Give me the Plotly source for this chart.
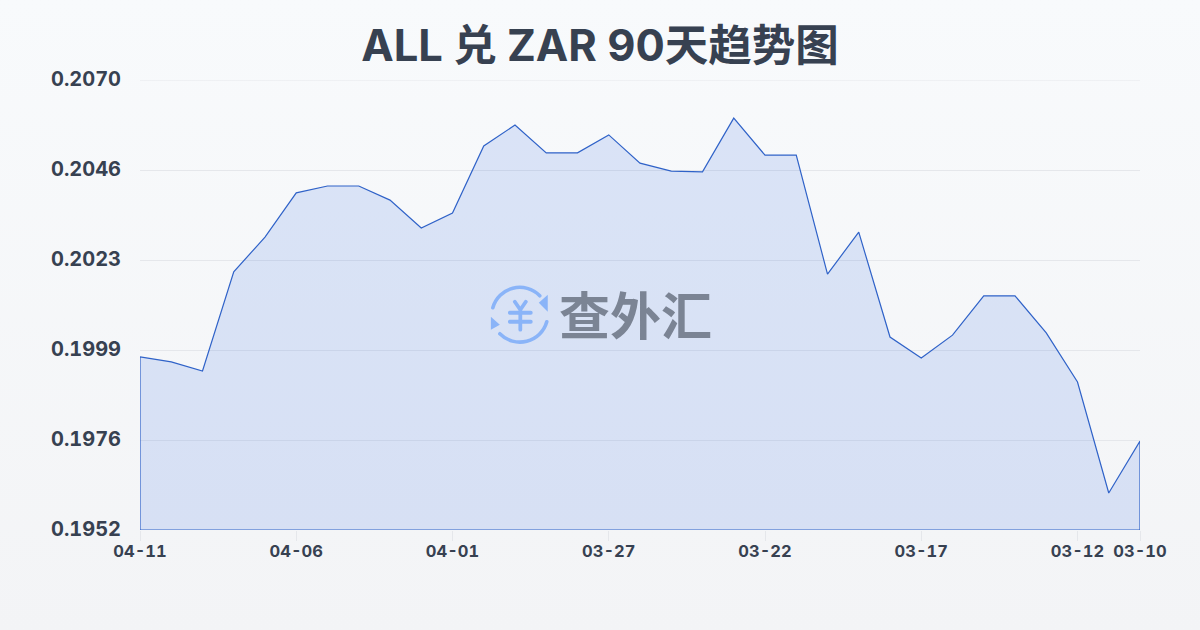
import base64
import plotly.graph_objects as go

dates = ["04-11","04-10","04-09","04-08","04-07","04-06","04-05","04-04","04-03","04-02","04-01",
         "03-31","03-30","03-29","03-28","03-27","03-26","03-25","03-24","03-23","03-22",
         "03-21","03-20","03-19","03-18","03-17","03-16","03-15","03-14","03-13","03-12","03-11","03-10"]
rates = [0.19974,0.19961,0.19937,0.20197,0.20288,0.20404,0.20422,0.20422,0.20385,0.20312,0.20351,
         0.20527,0.20582,0.20509,0.20509,0.20556,0.20482,0.20461,0.20459,0.20600,0.20503,
         0.20503,0.20191,0.20301,0.20026,0.19971,0.20031,0.20134,0.20134,0.20037,0.19908,0.19617,0.19753]
y_ticks = [0.1952,0.19756,0.19992,0.20228,0.20464,0.2070]
y_labels = ["0.1952","0.1976","0.1999","0.2023","0.2046","0.2070"]
x_ticks = ["04-11","04-06","04-01","03-27","03-22","03-17","03-12","03-10"]
title = "ALL 兑 ZAR 90天趋势图"
brand = "查外汇"
y_min, y_max = 0.1952, 0.2070

FONT = "Inter, Noto Sans CJK SC, sans-serif"
TEXT = "#374151"
W, H, L, T, PW, PH = 1200, 630, 140, 80, 1000.5, 450.5

def uri(svg):
    return "data:image/svg+xml;base64," + base64.b64encode(svg.encode()).decode()

bg = ('<svg xmlns="http://www.w3.org/2000/svg" width="1200" height="630" preserveAspectRatio="none">'
      '<defs><linearGradient id="g" x1="0" y1="0" x2="0" y2="1"><stop offset="0" stop-color="#f8fafc"/>'
      '<stop offset="1" stop-color="#f3f4f6"/></linearGradient></defs>'
      '<rect width="1200" height="630" fill="url(#g)"/></svg>')

icon = ('<svg xmlns="http://www.w3.org/2000/svg" width="60" height="60" viewBox="0 0 60 60">'
        '<g fill="none" stroke="#8ab4f8" stroke-width="3.6" stroke-linecap="round">'
        '<path d="M3 23 A28 28 0 0 1 50 11"/><path d="M57 37 A28 28 0 0 1 10 49"/>'
        '<path d="M25 17 L30.5 25 L36 17 M20 28 H41 M20 37 H41 M30.5 25 V45" stroke-width="3.8"/></g>'
        '<path d="M58 10 V27 L49 18 Z" fill="#8ab4f8"/><path d="M1 32 V45 L10 40 Z" fill="#8ab4f8"/></svg>')

fig = go.Figure()
fig.add_trace(go.Scatter(
    x=dates + [dates[-1], dates[0], dates[0]],
    y=rates + [y_min, y_min, rates[0]],
    mode="lines", fill="toself", cliponaxis=False,
    fillcolor="rgba(40,100,225,0.14)",
    line=dict(color="#2f62c8", width=1.2),
    hoverinfo="skip", showlegend=False,
))
fig.add_shape(type="line", xref="paper", yref="y", x0=0, x1=1, y0=y_ticks[-1], y1=y_ticks[-1],
              line=dict(color="#e5e7eb", width=1), layer="below")
fig.update_layout(
    width=W, height=H,
    margin=dict(l=L, r=W-L-PW, t=T, b=H-T-PH),
    paper_bgcolor="rgba(0,0,0,0)", plot_bgcolor="rgba(0,0,0,0)",
    font=dict(family=FONT, color=TEXT),
    title=dict(text=f"<b>{title}</b>", x=0.5, xanchor="center", y=0.928, yanchor="middle",
               font=dict(size=43.5, color="#374151", family=FONT)),
    xaxis=dict(type="category", categoryorder="array", categoryarray=dates,
               range=[0, len(dates)-1], tickmode="array", tickvals=x_ticks, ticktext=[f"<b>{t}</b>" for t in x_ticks],
               tickfont=dict(size=16.5, color=TEXT, family=FONT), ticks="outside", ticklen=10, tickcolor="#e5e7eb", tickwidth=1,
               showgrid=False, zeroline=False, showline=False, ticklabelstandoff=-4),
    yaxis=dict(range=[y_min, y_max], tickmode="array", tickvals=y_ticks, ticktext=[f"<b>{t}</b>" for t in y_labels],
               tickfont=dict(size=20, color=TEXT, family=FONT), ticks="", showgrid=True, gridcolor="#e5e7eb", gridwidth=1,
               zeroline=False, showline=False, ticklabelstandoff=18, ticklabelshift=-1),
    images=[
        dict(source=uri(bg), xref="paper", yref="paper", x=-(L+2)/PW, y=(T+PH+2)/PH, sizex=(W+6)/PW, sizey=(H+6)/PH,
             xanchor="left", yanchor="top", sizing="stretch", layer="below"),
        dict(source=uri(icon), xref="paper", yref="paper", x=(490-L)/PW, y=(T+PH-285)/PH, sizex=60/PW, sizey=60/PH,
             xanchor="left", yanchor="top", sizing="contain", layer="above"),
    ],
    annotations=[dict(text=f"<b>{brand}</b>", xref="paper", yref="paper", x=(636-L)/PW, y=(T+PH-313)/PH,
                      showarrow=False, xanchor="center", yanchor="middle",
                      font=dict(size=51, color="#7b8494", family="Noto Sans CJK SC"))],
)
css = ("var s=document.createElement('style');"
       "s.textContent='.xtick text,.ytick text,.xtick tspan,.ytick tspan{font-feature-settings:\"tnum\" 1;font-variant-numeric:tabular-nums;}';"
       "document.head.appendChild(s);"
       "document.body.style.margin='0';document.body.style.overflow='hidden';")
fig.write_html("out.html", config=dict(displayModeBar=False), post_script=css)
